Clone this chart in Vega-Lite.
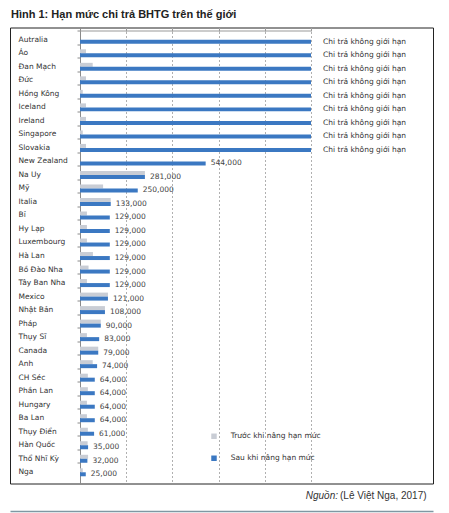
{
  "$schema": "https://vega.github.io/schema/vega-lite/v6.json",
  "width": 423,
  "height": 456,
  "autosize": {"type": "none"},
  "padding": {"left": 10, "top": 27.5, "right": 16, "bottom": 29.5},
  "title": {
    "text": "Hình 1: Hạn mức chi trả BHTG trên thế giới",
    "anchor": "start",
    "frame": "group",
    "font": "Liberation Sans",
    "fontSize": 11,
    "fontWeight": "bold",
    "color": "#222",
    "offset": 8,
    "dx": 1
  },
  "datasets": {
    "bars": [
      {"country": "Autralia", "series": "Trước khi nâng hạn mức", "value": 0},
      {"country": "Autralia", "series": "Sau khi nâng hạn mức", "value": 1000000, "unlimited": true},
      {"country": "Áo", "series": "Trước khi nâng hạn mức", "value": 26000},
      {"country": "Áo", "series": "Sau khi nâng hạn mức", "value": 1000000, "unlimited": true},
      {"country": "Đan Mạch", "series": "Trước khi nâng hạn mức", "value": 55000},
      {"country": "Đan Mạch", "series": "Sau khi nâng hạn mức", "value": 1000000, "unlimited": true},
      {"country": "Đức", "series": "Trước khi nâng hạn mức", "value": 26000},
      {"country": "Đức", "series": "Sau khi nâng hạn mức", "value": 1000000, "unlimited": true},
      {"country": "Hồng Kông", "series": "Trước khi nâng hạn mức", "value": 12000},
      {"country": "Hồng Kông", "series": "Sau khi nâng hạn mức", "value": 1000000, "unlimited": true},
      {"country": "Iceland", "series": "Trước khi nâng hạn mức", "value": 26000},
      {"country": "Iceland", "series": "Sau khi nâng hạn mức", "value": 1000000, "unlimited": true},
      {"country": "Ireland", "series": "Trước khi nâng hạn mức", "value": 26000},
      {"country": "Ireland", "series": "Sau khi nâng hạn mức", "value": 1000000, "unlimited": true},
      {"country": "Singapore", "series": "Trước khi nâng hạn mức", "value": 12000},
      {"country": "Singapore", "series": "Sau khi nâng hạn mức", "value": 1000000, "unlimited": true},
      {"country": "Slovakia", "series": "Trước khi nâng hạn mức", "value": 26000},
      {"country": "Slovakia", "series": "Sau khi nâng hạn mức", "value": 1000000, "unlimited": true},
      {"country": "New Zealand", "series": "Trước khi nâng hạn mức", "value": 0},
      {"country": "New Zealand", "series": "Sau khi nâng hạn mức", "value": 544000},
      {"country": "Na Uy", "series": "Trước khi nâng hạn mức", "value": 281000},
      {"country": "Na Uy", "series": "Sau khi nâng hạn mức", "value": 281000},
      {"country": "Mỹ", "series": "Trước khi nâng hạn mức", "value": 100000},
      {"country": "Mỹ", "series": "Sau khi nâng hạn mức", "value": 250000},
      {"country": "Italia", "series": "Trước khi nâng hạn mức", "value": 133000},
      {"country": "Italia", "series": "Sau khi nâng hạn mức", "value": 133000},
      {"country": "Bỉ", "series": "Trước khi nâng hạn mức", "value": 30000},
      {"country": "Bỉ", "series": "Sau khi nâng hạn mức", "value": 129000},
      {"country": "Hy Lạp", "series": "Trước khi nâng hạn mức", "value": 30000},
      {"country": "Hy Lạp", "series": "Sau khi nâng hạn mức", "value": 129000},
      {"country": "Luxembourg", "series": "Trước khi nâng hạn mức", "value": 30000},
      {"country": "Luxembourg", "series": "Sau khi nâng hạn mức", "value": 129000},
      {"country": "Hà Lan", "series": "Trước khi nâng hạn mức", "value": 56000},
      {"country": "Hà Lan", "series": "Sau khi nâng hạn mức", "value": 129000},
      {"country": "Bồ Đào Nha", "series": "Trước khi nâng hạn mức", "value": 37000},
      {"country": "Bồ Đào Nha", "series": "Sau khi nâng hạn mức", "value": 129000},
      {"country": "Tây Ban Nha", "series": "Trước khi nâng hạn mức", "value": 30000},
      {"country": "Tây Ban Nha", "series": "Sau khi nâng hạn mức", "value": 129000},
      {"country": "Mexico", "series": "Trước khi nâng hạn mức", "value": 121000},
      {"country": "Mexico", "series": "Sau khi nâng hạn mức", "value": 121000},
      {"country": "Nhật Bản", "series": "Trước khi nâng hạn mức", "value": 108000},
      {"country": "Nhật Bản", "series": "Sau khi nâng hạn mức", "value": 108000},
      {"country": "Pháp", "series": "Trước khi nâng hạn mức", "value": 90000},
      {"country": "Pháp", "series": "Sau khi nâng hạn mức", "value": 90000},
      {"country": "Thụy Sĩ", "series": "Trước khi nâng hạn mức", "value": 30000},
      {"country": "Thụy Sĩ", "series": "Sau khi nâng hạn mức", "value": 83000},
      {"country": "Canada", "series": "Trước khi nâng hạn mức", "value": 79000},
      {"country": "Canada", "series": "Sau khi nâng hạn mức", "value": 79000},
      {"country": "Anh", "series": "Trước khi nâng hạn mức", "value": 55000},
      {"country": "Anh", "series": "Sau khi nâng hạn mức", "value": 74000},
      {"country": "CH Séc", "series": "Trước khi nâng hạn mức", "value": 34000},
      {"country": "CH Séc", "series": "Sau khi nâng hạn mức", "value": 64000},
      {"country": "Phần Lan", "series": "Trước khi nâng hạn mức", "value": 34000},
      {"country": "Phần Lan", "series": "Sau khi nâng hạn mức", "value": 64000},
      {"country": "Hungary", "series": "Trước khi nâng hạn mức", "value": 30000},
      {"country": "Hungary", "series": "Sau khi nâng hạn mức", "value": 64000},
      {"country": "Ba Lan", "series": "Trước khi nâng hạn mức", "value": 30000},
      {"country": "Ba Lan", "series": "Sau khi nâng hạn mức", "value": 64000},
      {"country": "Thụy Điển", "series": "Trước khi nâng hạn mức", "value": 34000},
      {"country": "Thụy Điển", "series": "Sau khi nâng hạn mức", "value": 61000},
      {"country": "Hàn Quốc", "series": "Trước khi nâng hạn mức", "value": 33000},
      {"country": "Hàn Quốc", "series": "Sau khi nâng hạn mức", "value": 35000},
      {"country": "Thổ Nhĩ Kỳ", "series": "Trước khi nâng hạn mức", "value": 35000},
      {"country": "Thổ Nhĩ Kỳ", "series": "Sau khi nâng hạn mức", "value": 32000},
      {"country": "Nga", "series": "Trước khi nâng hạn mức", "value": 12000},
      {"country": "Nga", "series": "Sau khi nâng hạn mức", "value": 25000}
    ]
  },
  "data": {"name": "bars"},
  "layer": [
    {
      "mark": {"type": "bar"},
      "encoding": {
        "y": {
          "field": "country",
          "type": "nominal",
          "scale": {
            "domain": ["Autralia", "Áo", "Đan Mạch", "Đức", "Hồng Kông", "Iceland", "Ireland", "Singapore", "Slovakia", "New Zealand", "Na Uy", "Mỹ", "Italia", "Bỉ", "Hy Lạp", "Luxembourg", "Hà Lan", "Bồ Đào Nha", "Tây Ban Nha", "Mexico", "Nhật Bản", "Pháp", "Thụy Sĩ", "Canada", "Anh", "CH Séc", "Phần Lan", "Hungary", "Ba Lan", "Thụy Điển", "Hàn Quốc", "Thổ Nhĩ Kỳ", "Nga"],
            "paddingInner": 0,
            "paddingOuter": 0.37,
            "align": 0.35
          },
          "axis": {
            "orient": "left",
            "offset": -70,
            "title": null,
            "domainColor": "#8a8a8a",
            "ticks": true,
            "tickSize": 3,
            "tickColor": "#8a8a8a",
            "bandPosition": 0,
            "labels": true,
            "labelAlign": "left",
            "labelBaseline": "middle",
            "labelPadding": 59,
            "labelOffset": 2,
            "labelFont": "DejaVu Sans",
            "labelFontSize": 7.5,
            "labelColor": "#333",
            "labelLimit": 200,
            "labelOverlap": false
          }
        },
        "yOffset": {
          "field": "series",
          "type": "nominal",
          "scale": {
            "domain": ["Trước khi nâng hạn mức", "Sau khi nâng hạn mức"],
            "paddingInner": 0,
            "paddingOuter": 0.69,
            "align": 0.87
          }
        },
        "x": {
          "field": "value",
          "type": "quantitative",
          "scale": {"domain": [-303030, 1528139], "nice": false},
          "axis": {
            "orient": "top",
            "offset": -3.5,
            "values": [0, 200000, 400000, 600000, 800000, 1000000],
            "labels": false,
            "domain": false,
            "ticks": true,
            "tickSize": 3,
            "tickColor": "#999",
            "grid": true,
            "gridDash": [2, 2],
            "gridColor": "#b0b0b0",
            "title": null
          }
        },
        "color": {
          "field": "series",
          "type": "nominal",
          "scale": {
            "domain": ["Trước khi nâng hạn mức", "Sau khi nâng hạn mức"],
            "range": ["#c9cdd5", "#3b78c2"]
          },
          "legend": {
            "orient": "none",
            "legendX": 200.25,
            "legendY": 405,
            "title": null,
            "padding": 0,
            "symbolType": "square",
            "symbolSize": 30,
            "symbolStrokeWidth": 0,
            "labelFont": "DejaVu Sans",
            "labelFontSize": 7.5,
            "labelColor": "#333",
            "labelOffset": 13,
            "rowPadding": 13
          }
        }
      }
    },
    {
      "transform": [{"filter": "datum.series == 'Sau khi nâng hạn mức' && !datum.unlimited"}],
      "mark": {"type": "text", "align": "left", "baseline": "middle", "dx": 5, "dy": 4, "font": "DejaVu Sans", "fontSize": 7.5, "color": "#444"},
      "encoding": {
        "x": {"field": "value", "type": "quantitative", "axis": null},
        "y": {"field": "country", "type": "nominal"},
        "text": {"field": "value", "type": "quantitative", "format": ",.0f"}
      }
    },
    {
      "transform": [{"filter": "datum.series == 'Sau khi nâng hạn mức' && datum.unlimited"}],
      "mark": {"type": "text", "align": "left", "baseline": "middle", "dx": 12, "dy": 4, "font": "DejaVu Sans", "fontSize": 7.5, "color": "#333", "text": "Chi trả không giới hạn"},
      "encoding": {
        "x": {"field": "value", "type": "quantitative", "axis": null},
        "y": {"field": "country", "type": "nominal"}
      }
    },
    {
      "data": {"values": [{}]},
      "mark": {"type": "rule", "color": "#999", "strokeWidth": 1},
      "encoding": {
        "x": {"datum": 0, "type": "quantitative", "axis": null},
        "x2": {"datum": 1000000},
        "y": {"datum": "Autralia", "type": "nominal", "bandPosition": 0}
      }
    },
    {
      "data": {"values": [{}]},
      "mark": {"type": "text", "align": "right", "baseline": "middle", "dx": -2, "dy": 26, "font": "Liberation Sans", "fontSize": 10, "fontStyle": "italic", "color": "#333", "text": "Nguồn:"},
      "encoding": {
        "x": {
          "datum": 1125541,
          "type": "quantitative",
          "axis": {"orient": "bottom", "offset": 27.5, "domain": true, "domainColor": "#7f98a3", "domainWidth": 1.5, "ticks": false, "labels": false, "grid": false, "title": null}
        },
        "y": {"datum": "Nga", "type": "nominal"}
      }
    },
    {
      "data": {"values": [{}]},
      "mark": {"type": "text", "align": "left", "baseline": "middle", "dy": 26, "font": "Liberation Sans", "fontSize": 10, "color": "#333", "text": "(Lê Việt Nga, 2017)"},
      "encoding": {
        "x": {"datum": 1125541, "type": "quantitative", "axis": null},
        "y": {"datum": "Nga", "type": "nominal"}
      }
    }
  ],
  "resolve": {"axis": {"x": "independent"}},
  "config": {
    "view": {"stroke": "#222", "strokeWidth": 1}
  }
}
